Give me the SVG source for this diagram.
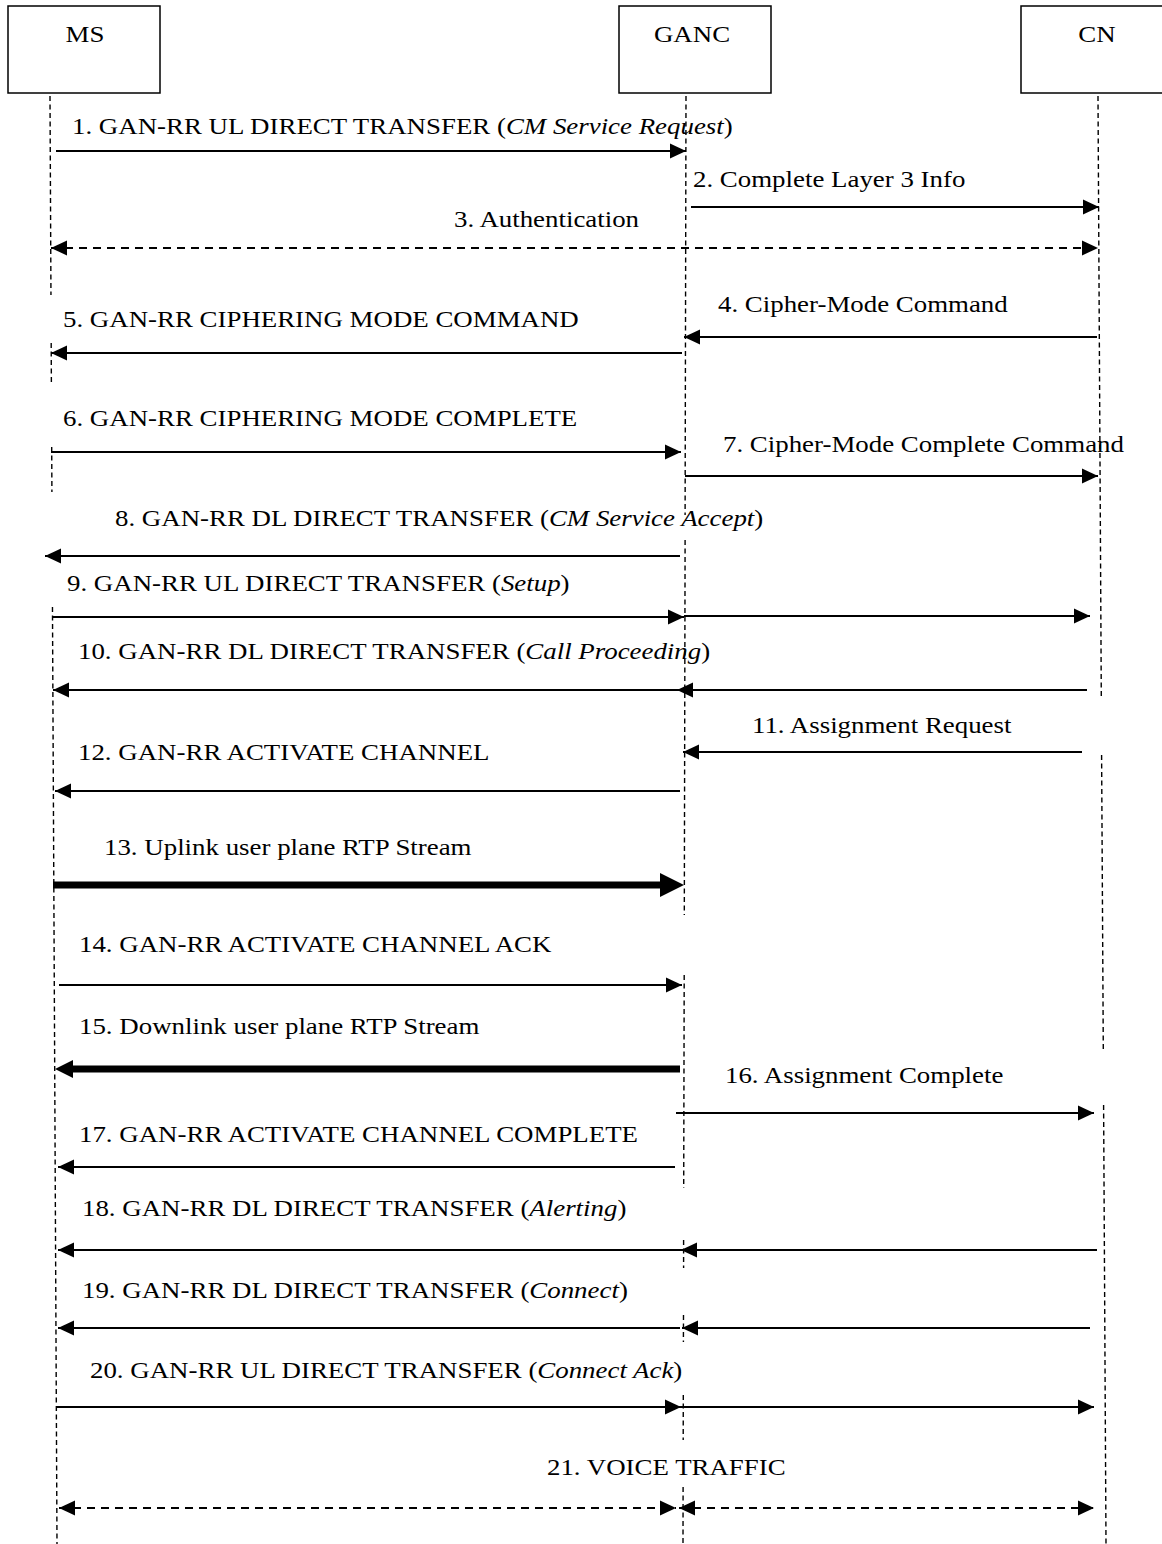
<svg xmlns="http://www.w3.org/2000/svg" width="1162" height="1544" viewBox="0 0 1162 1544">
<style>
.box{fill:#fff;stroke:#000;stroke-width:1.5}
.life{stroke:#000;stroke-width:1.4;stroke-dasharray:5 3.5;fill:none}
.msg{stroke:#000;stroke-width:2;fill:none}
.dash{stroke-dasharray:8 6}
.thick{stroke-width:7}
text{font-family:"Liberation Serif","Times New Roman",serif;font-size:24px;fill:#000}
.it{font-style:italic}
.head{fill:#000;stroke:none}
</style>
<defs>
<marker id="ah" markerUnits="userSpaceOnUse" markerWidth="16" markerHeight="15" refX="16" refY="7.5" orient="auto-start-reverse" overflow="visible"><path class="head" d="M0,0 L16,7.5 L0,15 z"/></marker>
<marker id="ahBig" markerUnits="userSpaceOnUse" markerWidth="24" markerHeight="24" refX="0" refY="12" orient="auto" overflow="visible"><path class="head" d="M0,0 L24,12 L0,24 z"/></marker>
<marker id="ahMid" markerUnits="userSpaceOnUse" markerWidth="18" markerHeight="18" refX="0" refY="9" orient="auto" overflow="visible"><path class="head" d="M0,0 L18,9 L0,18 z"/></marker>
</defs>
<rect width="1162" height="1544" fill="#fff"/>

<g id="node-ms">
<rect class="box" x="8" y="6" width="152" height="87"/>
<text transform="translate(85,42) scale(1.12,1)" text-anchor="middle">MS</text>
<line class="life" x1="50" y1="96" x2="50.96" y2="295"/>
<line class="life" x1="51.19" y1="343" x2="51.38" y2="382"/>
<line class="life" x1="51.7" y1="447" x2="51.91" y2="492"/>
<line class="life" x1="52.47" y1="607" x2="57" y2="1544"/>
</g>

<g id="node-ganc">
<rect class="box" x="619" y="6" width="152" height="87"/>
<text transform="translate(692,42) scale(1.12,1)" text-anchor="middle">GANC</text>
<line class="life" x1="686" y1="96" x2="685.1" y2="515"/>
<line class="life" x1="685.1" y1="540" x2="684.3" y2="915"/>
<line class="life" x1="684.2" y1="975" x2="683.7" y2="1188"/>
<line class="life" x1="683.6" y1="1240" x2="683.6" y2="1268"/>
<line class="life" x1="683.5" y1="1315" x2="683.4" y2="1342"/>
<line class="life" x1="683.3" y1="1395" x2="683.2" y2="1440"/>
<line class="life" x1="683.1" y1="1487" x2="683" y2="1544"/>
</g>

<g id="node-cn">
<rect class="box" x="1021" y="6" width="152" height="87"/>
<text transform="translate(1097,42) scale(1.12,1)" text-anchor="middle">CN</text>
<line class="life" x1="1098" y1="96" x2="1101.3" y2="697"/>
<line class="life" x1="1101.6" y1="755" x2="1103.3" y2="1050"/>
<line class="life" x1="1103.6" y1="1105" x2="1106" y2="1544"/>
</g>

<g id="connectors">
<line class="msg" x1="56" y1="151" x2="686" y2="151" marker-end="url(#ah)"/>
<line class="msg" x1="691" y1="207" x2="1099" y2="207" marker-end="url(#ah)"/>
<line class="msg dash" x1="51" y1="248" x2="1098" y2="248" marker-start="url(#ah)" marker-end="url(#ah)"/>
<line class="msg" x1="1097" y1="337" x2="684" y2="337" marker-end="url(#ah)"/>
<line class="msg" x1="682" y1="353" x2="51" y2="353" marker-end="url(#ah)"/>
<line class="msg" x1="51" y1="452" x2="681" y2="452" marker-end="url(#ah)"/>
<line class="msg" x1="685" y1="476" x2="1098" y2="476" marker-end="url(#ah)"/>
<line class="msg" x1="680" y1="556" x2="45" y2="556" marker-end="url(#ah)"/>
<line class="msg" x1="52" y1="617" x2="684" y2="617" marker-end="url(#ah)"/>
<line class="msg" x1="684" y1="616" x2="1090" y2="616" marker-end="url(#ah)"/>
<line class="msg" x1="1087" y1="690" x2="677" y2="690" marker-end="url(#ah)"/>
<line class="msg" x1="682" y1="690" x2="53" y2="690" marker-end="url(#ah)"/>
<line class="msg" x1="1082" y1="752" x2="683" y2="752" marker-end="url(#ah)"/>
<line class="msg" x1="680" y1="791" x2="55" y2="791" marker-end="url(#ah)"/>
<line class="msg thick" x1="53" y1="885" x2="660" y2="885" marker-end="url(#ahBig)"/>
<line class="msg" x1="59" y1="985" x2="682" y2="985" marker-end="url(#ah)"/>
<line class="msg thick" x1="680" y1="1069" x2="73" y2="1069" marker-end="url(#ahMid)"/>
<line class="msg" x1="676" y1="1113" x2="1094" y2="1113" marker-end="url(#ah)"/>
<line class="msg" x1="675" y1="1167" x2="58" y2="1167" marker-end="url(#ah)"/>
<line class="msg" x1="1097" y1="1250" x2="681" y2="1250" marker-end="url(#ah)"/>
<line class="msg" x1="681" y1="1250" x2="58" y2="1250" marker-end="url(#ah)"/>
<line class="msg" x1="1090" y1="1328" x2="682" y2="1328" marker-end="url(#ah)"/>
<line class="msg" x1="680" y1="1328" x2="58" y2="1328" marker-end="url(#ah)"/>
<line class="msg" x1="56" y1="1407" x2="681" y2="1407" marker-end="url(#ah)"/>
<line class="msg" x1="681" y1="1407" x2="1094" y2="1407" marker-end="url(#ah)"/>
<line class="msg dash" x1="59" y1="1508" x2="676" y2="1508" marker-start="url(#ah)" marker-end="url(#ah)"/>
<line class="msg dash" x1="679" y1="1508" x2="1094" y2="1508" marker-start="url(#ah)" marker-end="url(#ah)"/>

<text transform="translate(72,134) scale(1.12,1)">1. GAN-RR UL DIRECT TRANSFER (<tspan class="it">CM Service Request</tspan>)</text>
<text transform="translate(693,187) scale(1.12,1)">2. Complete Layer 3 Info</text>
<text transform="translate(454,227) scale(1.12,1)">3. Authentication</text>
<text transform="translate(718,312) scale(1.12,1)">4. Cipher-Mode Command</text>
<text transform="translate(63,327) scale(1.12,1)">5. GAN-RR CIPHERING MODE COMMAND</text>
<text transform="translate(63,426) scale(1.12,1)">6. GAN-RR CIPHERING MODE COMPLETE</text>
<text transform="translate(723,452) scale(1.12,1)">7. Cipher-Mode Complete Command</text>
<text transform="translate(115,526) scale(1.12,1)">8. GAN-RR DL DIRECT TRANSFER (<tspan class="it">CM Service Accept</tspan>)</text>
<text transform="translate(67,591) scale(1.12,1)">9. GAN-RR UL DIRECT TRANSFER (<tspan class="it">Setup</tspan>)</text>
<text transform="translate(78,659) scale(1.12,1)">10. GAN-RR DL DIRECT TRANSFER (<tspan class="it">Call Proceeding</tspan>)</text>
<text transform="translate(752,733) scale(1.12,1)">11. Assignment Request</text>
<text transform="translate(78,760) scale(1.12,1)">12. GAN-RR ACTIVATE CHANNEL</text>
<text transform="translate(104,855) scale(1.12,1)">13. Uplink user plane RTP Stream</text>
<text transform="translate(79,952) scale(1.12,1)">14. GAN-RR ACTIVATE CHANNEL ACK</text>
<text transform="translate(79,1034) scale(1.12,1)">15. Downlink user plane RTP Stream</text>
<text transform="translate(725,1083) scale(1.12,1)">16. Assignment Complete</text>
<text transform="translate(79,1142) scale(1.12,1)">17. GAN-RR ACTIVATE CHANNEL COMPLETE</text>
<text transform="translate(82,1216) scale(1.12,1)">18. GAN-RR DL DIRECT TRANSFER (<tspan class="it">Alerting</tspan>)</text>
<text transform="translate(82,1298) scale(1.12,1)">19. GAN-RR DL DIRECT TRANSFER (<tspan class="it">Connect</tspan>)</text>
<text transform="translate(90,1378) scale(1.12,1)">20. GAN-RR UL DIRECT TRANSFER (<tspan class="it">Connect Ack</tspan>)</text>
<text transform="translate(547,1475) scale(1.12,1)">21. VOICE TRAFFIC</text>
</g>
</svg>
